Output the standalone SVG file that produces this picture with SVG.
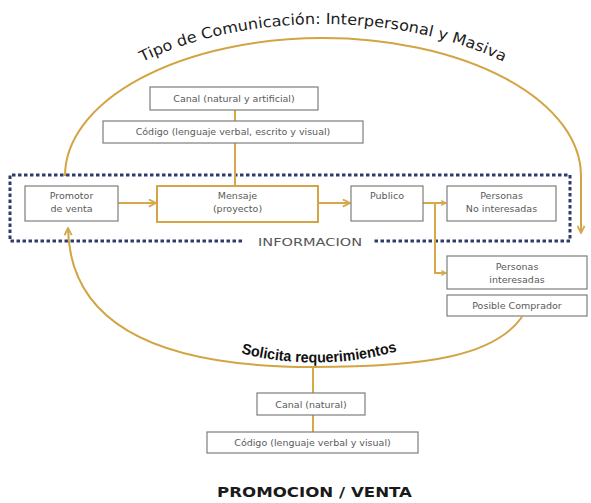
<svg xmlns="http://www.w3.org/2000/svg" width="591" height="503" viewBox="0 0 591 503">
  <defs>
    <style>
      .box { fill: #ffffff; stroke: #7d7d7d; stroke-width: 1.2; }
      .box-hl { fill: #ffffff; stroke: #d4a446; stroke-width: 2; }
      .lbl { font-family: "DejaVu Sans", Verdana, sans-serif; font-size: 9.5px; fill: #5a5a5a; text-anchor: middle; }
      .link { fill: none; stroke: #d6a84c; stroke-width: 2; }
      .curve { fill: none; stroke: #d3a443; stroke-width: 2; }
      .dots { fill: none; stroke: #2e3b6e; stroke-width: 3; stroke-dasharray: 3.5 2.5; }
      .arc-title { font-family: "DejaVu Sans", Verdana, sans-serif; font-size: 15px; fill: #1c1c1c; }
    </style>
    <marker id="chev" viewBox="0 0 10 10" refX="9" refY="5" markerWidth="6" markerHeight="6" orient="auto" markerUnits="userSpaceOnUse">
      <path d="M1,1 L9,5 L1,9" fill="none" stroke="#d6a84c" stroke-width="2"/>
    </marker>
    <marker id="chevBig" viewBox="0 0 10 10" refX="9" refY="5" markerWidth="9" markerHeight="9" orient="auto" markerUnits="userSpaceOnUse">
      <path d="M1,1 L9,5 L1,9" fill="none" stroke="#d6a84c" stroke-width="2"/>
    </marker>
    <path id="topTextPath" d="M50,176 A273,152 0 0 1 596,176"/>
    <path id="bottomTextPath" d="M236,352 Q318,374 402,350"/>
  </defs>

  <rect width="591" height="503" fill="#ffffff"/>

  <!-- dotted INFORMACION frame -->
  <g id="informacion">
    <path class="dots" d="M242,241 L10,241 L10,175 L570,175 L570,241 L373,241"/>
    <text x="310" y="246" font-family="DejaVu Sans, Verdana, sans-serif" font-size="10" fill="#555" text-anchor="middle" textLength="104" lengthAdjust="spacingAndGlyphs">INFORMACION</text>
  </g>

  <!-- connectors -->
  <g id="connectors">
    <path class="curve" d="M65,176 A258,138 0 0 1 581,176 L581,233" marker-end="url(#chevBig)"/>
    <path class="curve" d="M522,317 C495,355 430,367 313,367 C200,367 70,345 68,228" marker-end="url(#chevBig)"/>
    <line class="link" x1="235" y1="110" x2="235" y2="121"/>
    <line class="link" x1="235" y1="143" x2="235" y2="186"/>
    <line class="link" x1="118" y1="203" x2="156" y2="203" marker-end="url(#chevBig)"/>
    <line class="link" x1="318" y1="203" x2="350" y2="203" marker-end="url(#chevBig)"/>
    <line class="link" x1="423" y1="203" x2="446" y2="203" marker-end="url(#chev)"/>
    <path class="link" d="M435,203 L435,273 L446,273" marker-end="url(#chev)"/>
    <line class="link" x1="313" y1="367" x2="313" y2="393"/>
    <line class="link" x1="313" y1="415" x2="313" y2="432"/>
  </g>

  <!-- curved labels -->
  <g id="tipo-comunicacion">
    <text class="arc-title"><textPath href="#topTextPath" startOffset="50%" text-anchor="middle" textLength="372" lengthAdjust="spacingAndGlyphs">Tipo de Comunicación: Interpersonal y Masiva</textPath></text>
  </g>
  <g id="solicita">
    <text font-family="Liberation Sans, Arial, sans-serif" font-size="15" font-weight="bold" fill="#111"><textPath href="#bottomTextPath" startOffset="50%" text-anchor="middle" textLength="158" lengthAdjust="spacingAndGlyphs">Solicita requerimientos</textPath></text>
  </g>

  <!-- nodes -->
  <g id="canal-top">
    <rect class="box" x="150" y="87" width="168" height="23"/>
    <text class="lbl" x="234" y="102">Canal (natural y artificial)</text>
  </g>
  <g id="codigo-top">
    <rect class="box" x="103" y="121" width="260" height="22"/>
    <text class="lbl" x="233" y="135">Código (lenguaje verbal, escrito y visual)</text>
  </g>
  <g id="promotor">
    <rect class="box" x="25" y="186" width="93" height="35"/>
    <text class="lbl" x="71.5" y="199">Promotor</text>
    <text class="lbl" x="71.5" y="212">de venta</text>
  </g>
  <g id="mensaje">
    <rect class="box-hl" x="157" y="186" width="161" height="36"/>
    <text class="lbl" x="237.5" y="199">Mensaje</text>
    <text class="lbl" x="237.5" y="212">(proyecto)</text>
  </g>
  <g id="publico">
    <rect class="box" x="351" y="186" width="72" height="35"/>
    <text class="lbl" x="387" y="199">Publico</text>
  </g>
  <g id="no-interesadas">
    <rect class="box" x="447" y="186" width="109" height="35"/>
    <text class="lbl" x="501.5" y="199">Personas</text>
    <text class="lbl" x="501.5" y="212">No interesadas</text>
  </g>
  <g id="interesadas">
    <rect class="box" x="447" y="256" width="140" height="33"/>
    <text class="lbl" x="517" y="270">Personas</text>
    <text class="lbl" x="517" y="283">interesadas</text>
  </g>
  <g id="comprador">
    <rect class="box" x="447" y="295" width="140" height="21"/>
    <text class="lbl" x="517" y="309">Posible Comprador</text>
  </g>
  <g id="canal-bottom">
    <rect class="box" x="257" y="393" width="108" height="22"/>
    <text class="lbl" x="311" y="408">Canal (natural)</text>
  </g>
  <g id="codigo-bottom">
    <rect class="box" x="207" y="432" width="211" height="21"/>
    <text class="lbl" x="312.5" y="446">Código (lenguaje verbal y visual)</text>
  </g>

  <g id="title">
    <text x="314.5" y="497" font-family="DejaVu Sans, Verdana, sans-serif" font-size="13.5" font-weight="bold" fill="#1a1a1a" text-anchor="middle" textLength="195" lengthAdjust="spacingAndGlyphs">PROMOCION / VENTA</text>
  </g>
</svg>
